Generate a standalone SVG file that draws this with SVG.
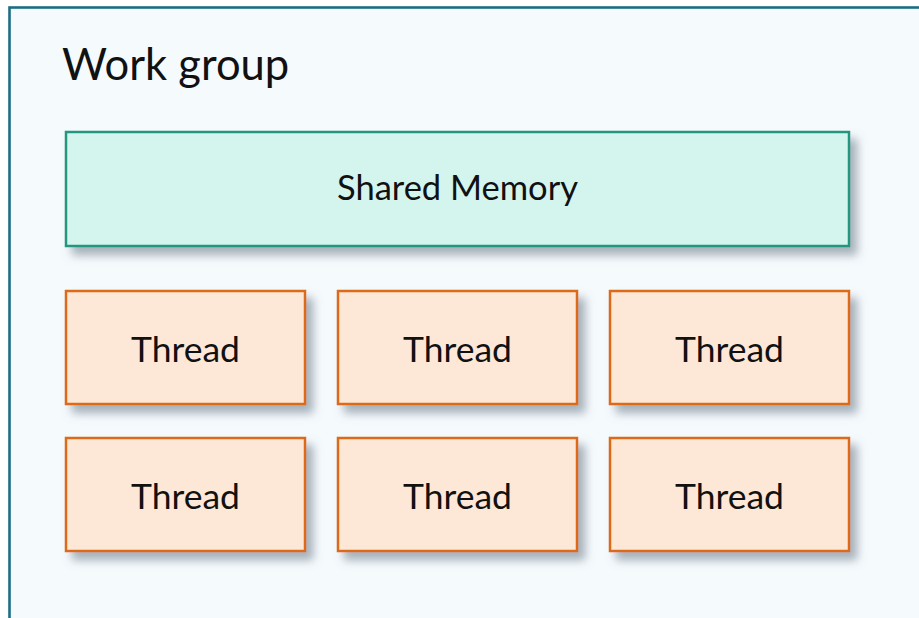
<svg xmlns="http://www.w3.org/2000/svg" width="919" height="618" viewBox="0 0 919 618">
  <defs>
    <filter id="shadow" x="-10%" y="-10%" width="130%" height="150%">
      <feGaussianBlur in="SourceAlpha" stdDeviation="5"/>
      <feOffset dx="7" dy="8" result="b"/>
      <feFlood flood-color="#6f7f8c" flood-opacity="0.6"/>
      <feComposite in2="b" operator="in"/>
      <feMerge>
        <feMergeNode/>
        <feMergeNode in="SourceGraphic"/>
      </feMerge>
    </filter>
  </defs>
  <style>
    text { font-family: "Lato", "Open Sans", "Liberation Sans", sans-serif; fill: #111; text-anchor: middle; }
    .mem rect { fill: #d4f5ee; stroke: #22967f; stroke-width: 2.5; filter: url(#shadow); }
    .thread rect { fill: #fde8d8; stroke: #dc6a12; stroke-width: 2.5; filter: url(#shadow); }
    .thread text { font-size: 35.5px; }
  </style>
  <rect width="919" height="618" fill="#ffffff"/>

  <!-- work group container -->
  <g id="workgroup">
    <rect x="9.5" y="7.5" width="940" height="640" fill="#f5fafd" stroke="#1b6f84" stroke-width="2.6"/>
    <text x="62" y="80" font-size="43.5" style="text-anchor:start">Work group</text>
  </g>

  <g id="shared-memory" class="mem">
    <rect x="66" y="132" width="783" height="114"/>
    <text x="457.5" y="200" font-size="34.5">Shared Memory</text>
  </g>

  <g id="thread-1" class="thread">
    <rect x="66" y="291" width="239" height="113"/>
    <text x="185.5" y="362">Thread</text>
  </g>
  <g id="thread-2" class="thread">
    <rect x="338" y="291" width="239" height="113"/>
    <text x="457.5" y="362">Thread</text>
  </g>
  <g id="thread-3" class="thread">
    <rect x="610" y="291" width="239" height="113"/>
    <text x="729.5" y="362">Thread</text>
  </g>
  <g id="thread-4" class="thread">
    <rect x="66" y="438" width="239" height="113"/>
    <text x="185.5" y="509">Thread</text>
  </g>
  <g id="thread-5" class="thread">
    <rect x="338" y="438" width="239" height="113"/>
    <text x="457.5" y="509">Thread</text>
  </g>
  <g id="thread-6" class="thread">
    <rect x="610" y="438" width="239" height="113"/>
    <text x="729.5" y="509">Thread</text>
  </g>

  <g id="connectors"/>
</svg>
